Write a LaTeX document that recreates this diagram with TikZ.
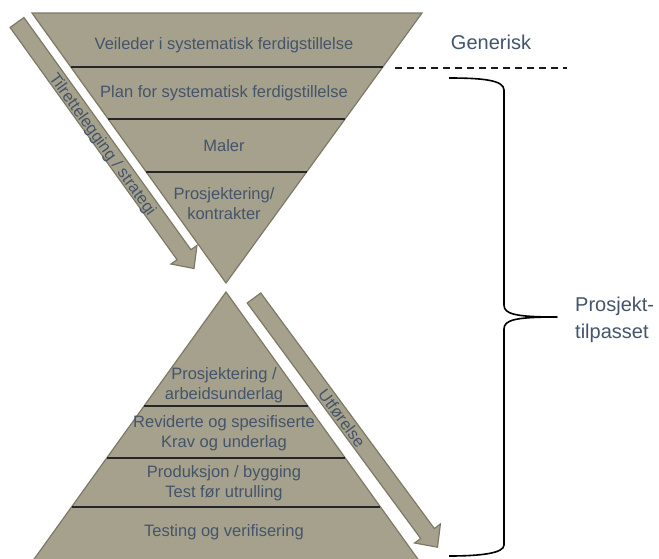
\documentclass[tikz,border=0pt]{standalone}
\usepackage{fontspec}
\setmainfont{Liberation Sans}
\usetikzlibrary{calc}
\definecolor{trifill}{RGB}{166,161,140}
\definecolor{triedge}{RGB}{126,121,102}
\definecolor{txtcol}{RGB}{68,84,106}
\begin{document}
\begin{tikzpicture}[x=1pt,y=-1pt,
  tri/.style={fill=trifill,draw=triedge,line width=1.2pt,line join=miter},
  blockarrow/.style={fill=trifill,draw=triedge,line width=1.2pt,line join=miter},
  layer/.style={draw=black!85,line width=1.8pt},
  lbl/.style={text=txtcol,inner sep=0pt,align=center,font=\fontsize{16.5}{20}\selectfont},
  biglbl/.style={text=txtcol,inner sep=0pt,font=\fontsize{20}{27}\selectfont},
  sep/.style={draw=black!90,line width=1.5pt,dash pattern=on 7pt off 5pt},
  bracestyle/.style={draw=black,line width=1.6pt,line join=round}]
\useasboundingbox (0,0) rectangle (659,558);
\clip (0,0) rectangle (659,558);

% corners
\coordinate (TL) at (32,13);
\coordinate (TR) at (422,13);
\coordinate (TA) at (226,283);
\coordinate (BA) at (226,292);
\coordinate (BL) at (32,562);
\coordinate (BR) at (420,562);

% triangles
\draw[tri] (TL) -- (TR) -- (TA) -- cycle;
\draw[tri] (BA) -- (BR) -- (BL) -- cycle;

% layer lines, top
\draw[layer] ($(TL)!0.2!(TA)$) -- ($(TR)!0.2!(TA)$);
\draw[layer] ($(TL)!0.3926!(TA)$) -- ($(TR)!0.3926!(TA)$);
\draw[layer] ($(TL)!0.589!(TA)$) -- ($(TR)!0.589!(TA)$);
% layer lines, bottom
\draw[layer] ($(BA)!0.4222!(BL)$) -- ($(BA)!0.4222!(BR)$);
\draw[layer] ($(BA)!0.6148!(BL)$) -- ($(BA)!0.6148!(BR)$);
\draw[layer] ($(BA)!0.7963!(BL)$) -- ($(BA)!0.7963!(BR)$);

% block arrows
\draw[blockarrow] (23.9,17.5) -- (190.9,249.7) -- (197,245.4) -- (194,268.5)
  -- (171,264) -- (177.1,259.7) -- (10.1,27.5) -- cycle;
\draw[blockarrow] (260.8,293) -- (434.3,528.5) -- (440.4,524) -- (437.5,547.2)
  -- (414.6,543) -- (420.7,538.5) -- (247.2,303) -- cycle;

% texts, top triangle
\node[lbl] (t1) at (224,45) {Veileder i systematisk ferdigstillelse};
\node[lbl] (t2) at (224,93) {Plan for systematisk ferdigstillelse};
\node[lbl] (t3) at (224,146) {Maler};
\node[lbl] (t4) at (224,204) {Prosjektering/\\kontrakter};

% texts, bottom triangle
\node[lbl] (b1) at (224,385.5) {Prosjektering /\\arbeidsunderlag};
\node[lbl] (b2) at (224,433) {Reviderte og spesifiserte\\Krav og underlag};
\node[lbl] (b3) at (224,483) {Produksjon / bygging\\Test før utrulling};
\node[lbl] (b4) at (224,532) {Testing og verifisering};

% arrow labels
\node[lbl,rotate=-54.3] (strat) at (102,145) {Tilrettelegging / strategi};
\node[lbl,rotate=-53.6] (utf) at (342,418) {Utførelse};

% right side
\node[biglbl] (gen) at (491,42) {Generisk};
\draw[sep] (395,68) -- (567,68);
\draw[bracestyle] (449,78) .. controls (482,78) and (504,80) .. (504,90)
  -- (504,305) .. controls (504,314) and (515,317) .. (557,317)
  .. controls (515,317) and (504,320) .. (504,329)
  -- (504,545) .. controls (504,553) and (482,556) .. (449,556);
\node[biglbl,anchor=west,align=left] (proj) at (575,320) {Prosjekt-\\tilpasset};
\end{tikzpicture}
\end{document}
